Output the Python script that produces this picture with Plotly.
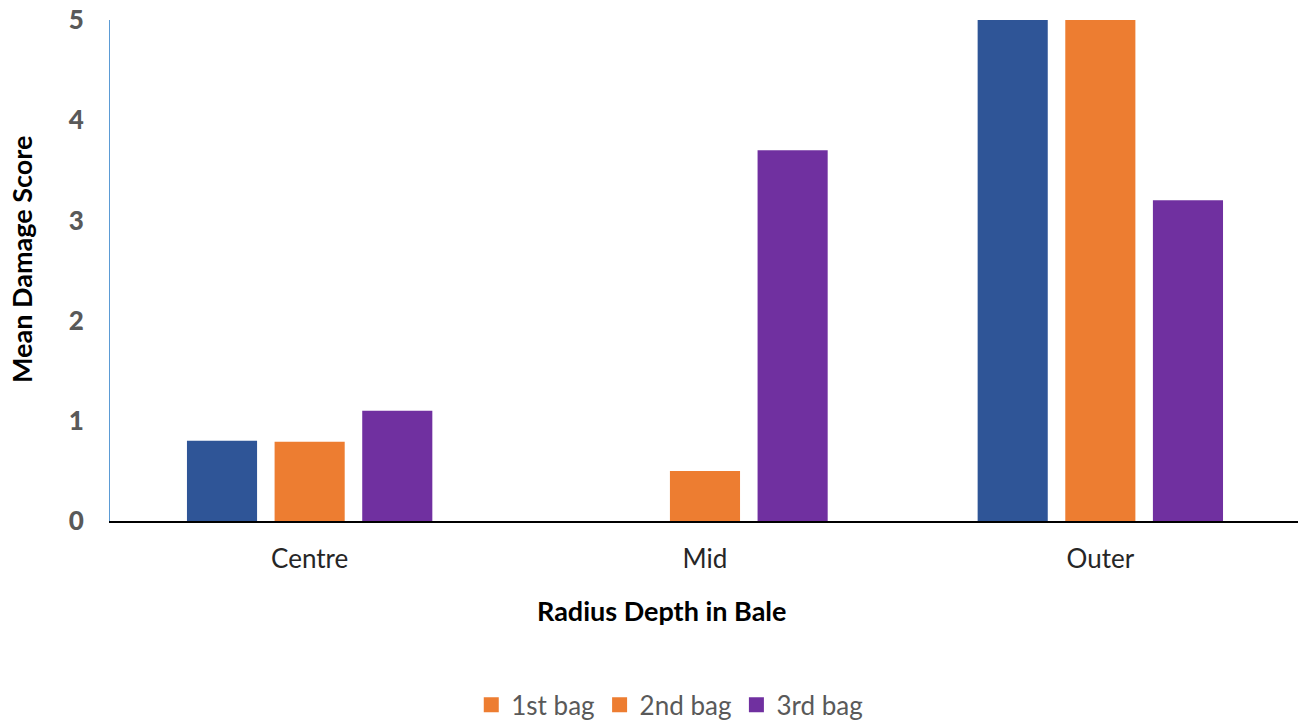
import plotly.graph_objects as go

categories = ["Centre", "Mid", "Outer"]
series_names = ["1st bag", "2nd bag", "3rd bag"]
bag1 = [0.8, 0.0, 5.0]
bag2 = [0.79, 0.5, 5.0]
bag3 = [1.1, 3.7, 3.2]
bar_colors = ["#2F5597", "#ED7D31", "#7030A0"]
legend_colors = ["#ED7D31", "#ED7D31", "#7030A0"]
y_ticks = [0, 1, 2, 3, 4, 5]

FONT = "Lato"
fig = go.Figure()
for name, vals, col in zip(series_names, [bag1, bag2, bag3], bar_colors):
    fig.add_trace(go.Bar(x=categories, y=vals, name=name, marker_color=col,
                         marker_line_width=0, showlegend=False))
for name, col in zip(series_names, legend_colors):
    fig.add_trace(go.Scatter(x=[None], y=[None], name=name, mode="markers",
                             marker=dict(symbol="square", size=15, color=col),
                             showlegend=True))

fig.update_layout(
    width=1298, height=720,
    margin=dict(l=110, r=0, t=20, b=199),
    paper_bgcolor="white", plot_bgcolor="white",
    barmode="group", bargap=0.335, bargroupgap=0.2,
    font=dict(family=FONT, size=26, color="#262626"),
    xaxis=dict(range=[-0.505, 2.5], showline=True, linecolor="black", linewidth=2,
               showgrid=False, ticks="", tickfont=dict(size=26, color="#262626"),
               ticklabelstandoff=14),
    yaxis=dict(range=[0, 5], tickvals=y_ticks, showline=True, linecolor="#5B9BD5",
               linewidth=1, showgrid=False, zeroline=False, ticks="",
               tickfont=dict(size=26, color="#595959", family=FONT, weight=900),
               ticklabelstandoff=20),
    legend=dict(orientation="h", xref="container", yref="container",
                x=0.516, xanchor="center", y=0.021, yanchor="middle",
                font=dict(size=26, color="#595959"), itemwidth=30,
                traceorder="normal"),
    annotations=[
        dict(text="<b>Radius Depth in Bale</b>", xref="paper", yref="paper",
             x=(661 - 110) / 1188, y=-(610 - 521) / 501, showarrow=False,
             xanchor="center", yanchor="middle", font=dict(size=27, color="black")),
        dict(text="<b>Mean Damage Score</b>", xref="paper", yref="paper",
             x=-(110 - 21) / 1188, y=(521 - 260) / 501, showarrow=False, textangle=-90,
             xanchor="center", yanchor="middle", font=dict(size=27, color="black")),
    ],
)
fig.write_html("out.html")
